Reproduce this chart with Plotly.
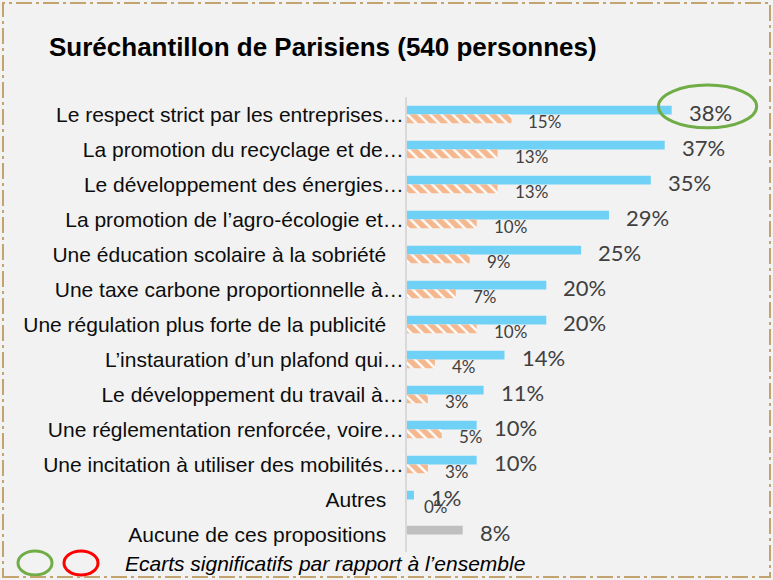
import plotly.graph_objects as go

# Figure size and plot-area margins (pixels)
W, H = 773, 580
L, R, T, B = 407, 8, 97, 28
PW, PH = W - L - R, H - T - B
X_MAX = 51.4

categories = [
    "Le respect strict par les entreprises…",
    "La promotion du recyclage et de…",
    "Le développement des énergies…",
    "La promotion de l’agro-écologie et…",
    "Une éducation scolaire à la sobriété",
    "Une taxe carbone proportionnelle à…",
    "Une régulation plus forte de la publicité",
    "L’instauration d’un plafond qui…",
    "Le développement du travail à…",
    "Une réglementation renforcée, voire…",
    "Une incitation à utiliser des mobilités…",
    "Autres",
    "Aucune de ces propositions",
]
parisiens = [38, 37, 35, 29, 25, 20, 20, 14, 11, 10, 10, 1, 8]
en_premier = [15, 13, 13, 10, 9, 7, 10, 4, 3, 5, 3, 0, None]
significatif_plus = [0]  # rows flagged as significantly above the overall sample

BLUE = "#6FD1F5"
GREY = "#BFBFBF"
ORANGE = "#EB6F1E"
TEXT = "#404040"
BG = "#F2F2F2"
LABEL_FONT = "Liberation Sans, Arial, sans-serif"
VALUE_FONT = "Lato, Open Sans, sans-serif"

bar_colors = [GREY if c == "Aucune de ces propositions" else BLUE for c in categories]

# Plain (non-truncated) labels sit a little further from the axis
ticktext = [c if c.endswith("…") else c + "\u00a0\u00a0\u00a0" for c in categories]
n = len(categories)


def px_x(px):
    return (px - L) / PW


def px_y(py):
    return (H - B - py) / PH


def data_x(v):
    return v / X_MAX


def data_y(pos):
    # category position (0 = top row) to paper y
    return 1 - (pos + 0.5) / n


fig = go.Figure()
fig.add_trace(go.Bar(
    y=categories, x=parisiens, orientation="h",
    marker=dict(color=bar_colors, line=dict(width=0)),
    hoverinfo="skip",
))
fig.add_trace(go.Bar(
    y=categories, x=en_premier, orientation="h",
    marker=dict(color="white", line=dict(width=0),
                pattern=dict(shape="\\", fgcolor=ORANGE, bgcolor="white",
                             size=8, solidity=0.7)),
    hoverinfo="skip",
))

annotations = []
for cat, v in zip(categories, parisiens):
    annotations.append(dict(
        x=v, y=cat, xref="x", yref="y", text=f"{v}%", showarrow=False,
        xanchor="left", yanchor="middle", xshift=15, yshift=2.5,
        font=dict(family=VALUE_FONT, size=22, color=TEXT),
    ))
for cat, v in zip(categories, en_premier):
    if v is None:
        continue
    annotations.append(dict(
        x=v, y=cat, xref="x", yref="y", text=f"{v}%", showarrow=False,
        xanchor="left", yanchor="middle", xshift=15, yshift=-7,
        font=dict(family=VALUE_FONT, size=17, color=TEXT),
    ))

# Footnote
annotations.append(dict(
    x=px_x(123), y=px_y(563), xref="paper", yref="paper",
    text="<i>Ecarts significatifs par rapport à l’ensemble</i>",
    showarrow=False, xanchor="left", yanchor="middle",
    font=dict(family=LABEL_FONT, size=21, color="#000000"),
))

shapes = []
# Ellipse around significantly higher values (paper refs so it is not clipped)
for i in significatif_plus:
    v = parisiens[i]
    shapes.append(dict(
        type="circle", xref="paper", yref="paper",
        x0=data_x(v - 1.9), x1=data_x(v + 12.2),
        y0=data_y(i + 0.38), y1=data_y(i - 0.84),
        line=dict(color="#70AD47", width=3),
    ))
# Footnote markers
shapes.append(dict(type="circle", xref="paper", yref="paper",
                   x0=px_x(18), x1=px_x(52), y0=px_y(575), y1=px_y(551),
                   line=dict(color="#70AD47", width=3)))
shapes.append(dict(type="circle", xref="paper", yref="paper",
                   x0=px_x(64), x1=px_x(98), y0=px_y(575), y1=px_y(551),
                   line=dict(color="#FF0000", width=3)))
# Dash-dot frame around the whole chart
shapes.append(dict(type="rect", xref="paper", yref="paper",
                   x0=px_x(3), x1=px_x(770), y0=px_y(577), y1=px_y(3),
                   line=dict(color="#C4A46E", width=2, dash="16px,4px,3px,4px")))

fig.update_layout(
    width=W, height=H,
    margin=dict(l=L, r=R, t=T, b=B, pad=0),
    paper_bgcolor=BG, plot_bgcolor=BG,
    barmode="group", bargap=0.5, bargroupgap=0,
    showlegend=False,
    hovermode=False,
    title=dict(
        text="<b>Suréchantillon de Parisiens (540 personnes)</b>",
        x=49 / W, xref="container", xanchor="left",
        y=1 - 47 / H, yref="container", yanchor="middle",
        font=dict(family=LABEL_FONT, size=26, color="#000000"),
    ),
    xaxis=dict(range=[0, X_MAX], visible=False, fixedrange=True),
    yaxis=dict(
        categoryorder="array", categoryarray=categories,
        tickmode="array", tickvals=categories, ticktext=ticktext,
        range=[n - 0.5, -0.5], autorange=False,
        showgrid=False, zeroline=False,
        showline=True, linecolor="#D9D9D9", linewidth=2,
        ticks="", ticklabelstandoff=-3,
        tickfont=dict(family=LABEL_FONT, size=21, color="#0D0D0D"),
        fixedrange=True,
    ),
    annotations=annotations,
    shapes=shapes,
)

fig.write_html("out.html")
